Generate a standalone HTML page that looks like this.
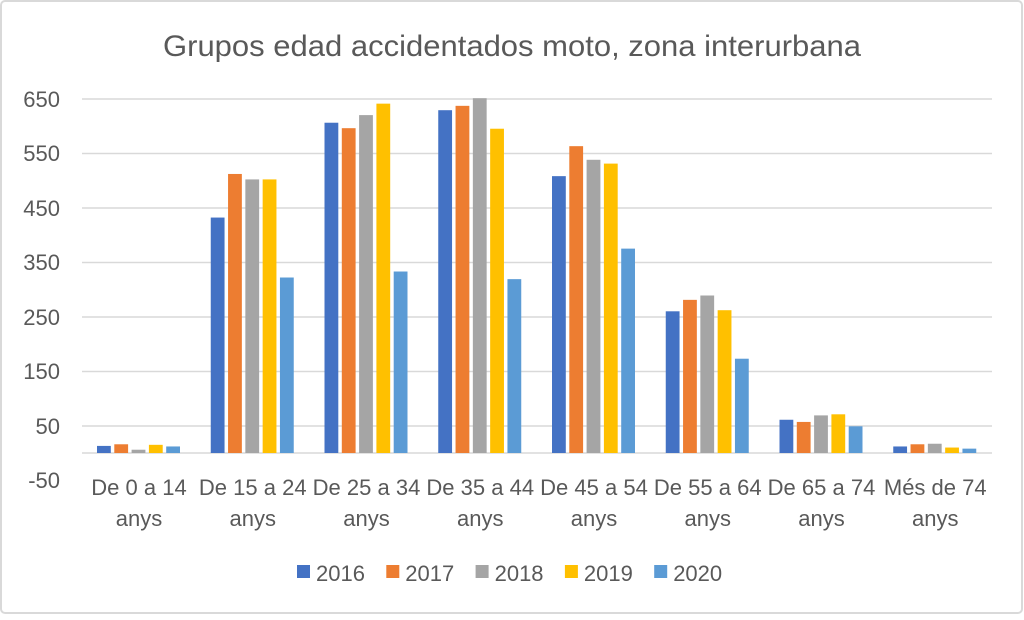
<!DOCTYPE html>
<html><head><style>
body{margin:0;background:#fff;}
svg text{font-family:"Liberation Sans",sans-serif;fill:#595959;}
</style></head><body>
<svg width="1024" height="615" xmlns="http://www.w3.org/2000/svg">
<rect x="1" y="1" width="1021" height="612" rx="4" fill="#fff" stroke="#d9d9d9" stroke-width="2"/>
<text x="512" y="56" font-size="30" text-anchor="middle" textLength="698" lengthAdjust="spacingAndGlyphs">Grupos edad accidentados moto, zona interurbana</text>
<g stroke="#d9d9d9" stroke-width="1.5">
<line x1="82" x2="992" y1="99" y2="99"/><line x1="82" x2="992" y1="153.5" y2="153.5"/>
<line x1="82" x2="992" y1="208" y2="208"/><line x1="82" x2="992" y1="262.5" y2="262.5"/>
<line x1="82" x2="992" y1="317" y2="317"/><line x1="82" x2="992" y1="371.5" y2="371.5"/>
<line x1="82" x2="992" y1="426" y2="426"/><line x1="82" x2="992" y1="453" y2="453"/>
</g>
<g font-size="22" text-anchor="end">
<text x="60" y="107">650</text><text x="60" y="161">550</text><text x="60" y="216">450</text>
<text x="60" y="270">350</text><text x="60" y="325">250</text><text x="60" y="379">150</text>
<text x="60" y="434">50</text><text x="60" y="488">-50</text>
</g>
<g id="bars"></g>
<g font-size="22" text-anchor="middle" id="cats"></g>
<g font-size="22" id="leg"></g>
<script>
var d=[[13,16,6,15,12],[432,512,502,502,322],[606,596,620,641,333],[629,637,651,595,319],[508,563,538,531,375],[260,281,289,262,173],[61,57,69,71,49],[12,16,17,10,8]];
var c=["#4472c4","#ed7d31","#a5a5a5","#ffc000","#5b9bd5"];
var l=[["De 0 a 14","anys"],["De 15 a 24","anys"],["De 25 a 34","anys"],["De 35 a 44","anys"],["De 45 a 54","anys"],["De 55 a 64","anys"],["De 65 a 74","anys"],["Més de 74","anys"]];
var ns="http://www.w3.org/2000/svg",b=document.getElementById("bars"),t=document.getElementById("cats"),g=document.getElementById("leg");
function el(n,a,p,tx){var e=document.createElementNS(ns,n);for(var k in a)e.setAttribute(k,a[k]);if(tx)e.textContent=tx;p.appendChild(e);}
for(var i=0;i<8;i++){for(var j=0;j<5;j++){var h=d[i][j]*0.545;el("rect",{x:97+i*113.75+j*17.3,y:453-h,width:13.8,height:h,fill:c[j]},b);}
var cx=82+i*113.75+57;el("text",{x:cx,y:495},t,l[i][0]);el("text",{x:cx,y:526},t,l[i][1]);}
var yrs=["2016","2017","2018","2019","2020"];
for(var j=0;j<5;j++){var x=297+j*89.3;el("rect",{x:x,y:565,width:13,height:13,fill:c[j]},g);el("text",{x:x+19,y:581},g,yrs[j]);}
</script>
</svg>
</body></html>
